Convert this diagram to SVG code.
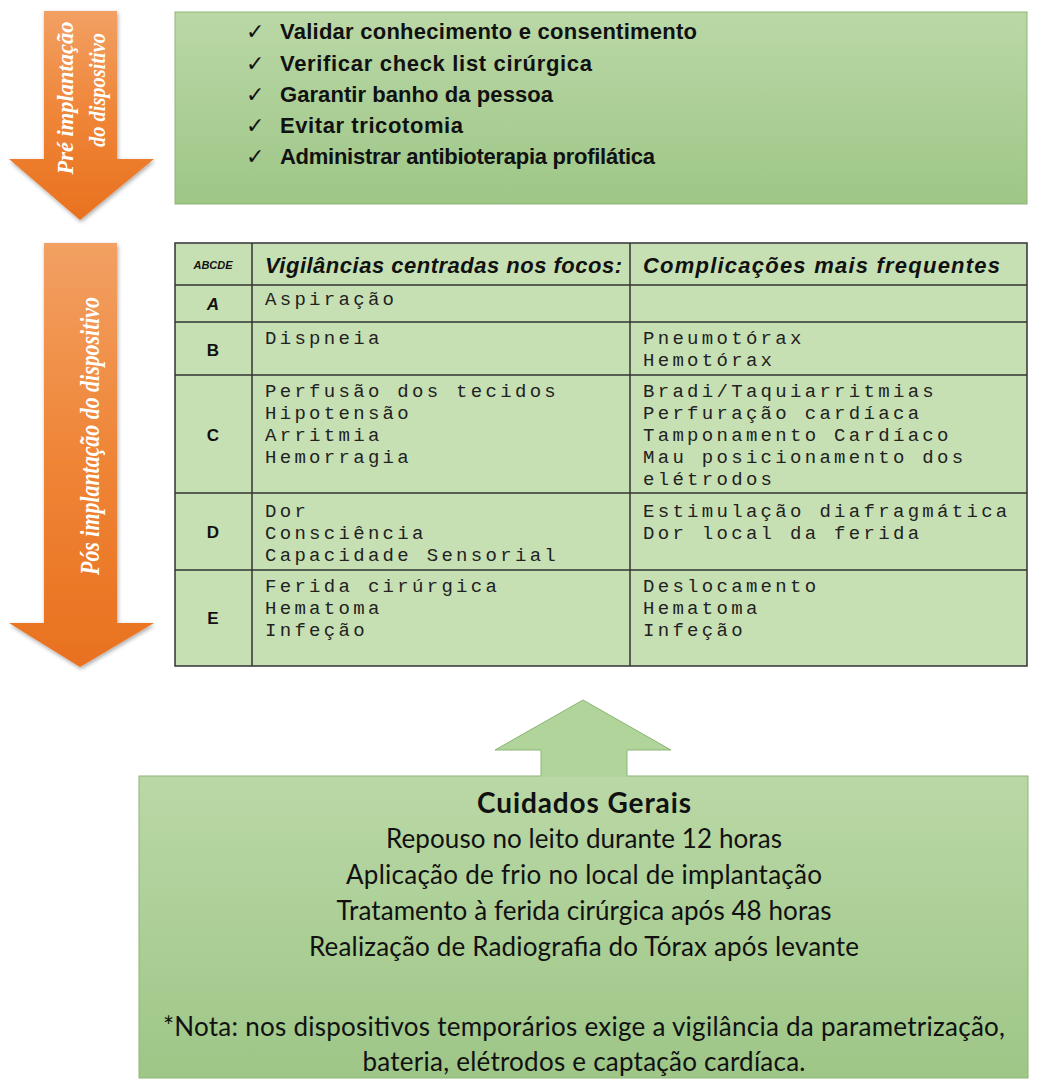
<svg xmlns="http://www.w3.org/2000/svg" width="1043" height="1081" viewBox="0 0 1043 1081">
<defs>
<linearGradient id="gGreen" x1="0" y1="0" x2="0" y2="1">
<stop offset="0" stop-color="#bad8a6"/>
<stop offset="1" stop-color="#9ec687"/>
</linearGradient>
<linearGradient id="gOrange" x1="0" y1="0" x2="0" y2="1">
<stop offset="0" stop-color="#f2a063"/>
<stop offset="0.5" stop-color="#ef8537"/>
<stop offset="1" stop-color="#e9711f"/>
</linearGradient>
<filter id="shadow" x="-20%" y="-10%" width="140%" height="130%">
<feGaussianBlur in="SourceAlpha" stdDeviation="2"/>
<feOffset dx="1" dy="2" result="b"/>
<feComponentTransfer><feFuncA type="linear" slope="0.35"/></feComponentTransfer>
<feMerge><feMergeNode/><feMergeNode in="SourceGraphic"/></feMerge>
</filter>
</defs>
<style>
.arrowTxt{font-family:"Liberation Serif","DejaVu Serif",serif;font-style:italic;font-weight:bold;fill:#ffffff;text-anchor:middle}
.chk{font-family:"Liberation Sans","DejaVu Sans",sans-serif;font-weight:bold;font-size:22px;fill:#111}
.tick{font-family:"DejaVu Sans",sans-serif;font-size:22px;fill:#111}
.hdr{font-family:"Liberation Sans","DejaVu Sans",sans-serif;font-weight:bold;font-style:italic;font-size:22px;fill:#111}
.letter{font-family:"Liberation Sans","DejaVu Sans",sans-serif;font-weight:900;fill:#111;text-anchor:middle}
.mono{font-family:"Liberation Mono","DejaVu Sans Mono",monospace;font-size:19px;letter-spacing:3.3px;fill:#222}
.grid{stroke:#333;stroke-width:1.5;fill:none}
.care{font-family:Lato,"Liberation Sans",sans-serif;font-size:26px;fill:#111;text-anchor:middle}
.careT{font-family:Lato,"Liberation Sans",sans-serif;font-size:28px;font-weight:bold;fill:#111;text-anchor:middle}
</style>

<g id="arrow-pre">
<polygon points="44,11 117,11 117,159 154,159 80,220 9,159 44,159" fill="url(#gOrange)" filter="url(#shadow)"/>
<text class="arrowTxt" font-size="24" textLength="153" lengthAdjust="spacingAndGlyphs" transform="translate(73,98) rotate(-90)">Pré implantação</text>
<text class="arrowTxt" font-size="24" textLength="114" lengthAdjust="spacingAndGlyphs" transform="translate(105,90) rotate(-90)">do dispositivo</text>
</g>

<g id="arrow-pos">
<polygon points="44,243 117,243 117,623 154,623 80,667 9,623 44,623" fill="url(#gOrange)" filter="url(#shadow)"/>
<text class="arrowTxt" font-size="27" textLength="278" lengthAdjust="spacingAndGlyphs" transform="translate(99,436) rotate(-90)">Pós implantação do dispositivo</text>
</g>

<g id="pre-box">
<rect x="175" y="12" width="852" height="192" fill="url(#gGreen)" stroke="#8db574" stroke-width="1"/>
<text class="tick" x="246" y="39">✓</text><text class="chk" x="280" y="39" textLength="417">Validar conhecimento e consentimento</text>
<text class="tick" x="246" y="71">✓</text><text class="chk" x="280" y="71" textLength="312">Verificar check list cirúrgica</text>
<text class="tick" x="246" y="102">✓</text><text class="chk" x="280" y="102" textLength="273">Garantir banho da pessoa</text>
<text class="tick" x="246" y="133">✓</text><text class="chk" x="280" y="133" textLength="183">Evitar tricotomia</text>
<text class="tick" x="246" y="164">✓</text><text class="chk" x="280" y="164" textLength="375">Administrar antibioterapia profilática</text>
</g>

<g id="table">
<rect x="175" y="243" width="852" height="423" fill="#c6e0b4"/>
<path class="grid" d="M175,243 H1027 V666 H175 Z M252,243 V666 M630,243 V666 M175,285 H1027 M175,322 H1027 M175,375 H1027 M175,493 H1027 M175,570 H1027"/>
<text class="letter" x="213" y="269" font-size="11" font-style="italic">ABCDE</text>
<text class="hdr" x="265" y="273" textLength="357">Vigilâncias centradas nos focos:</text>
<text class="hdr" x="643" y="273" textLength="357">Complicações mais frequentes</text>

<text class="letter" x="213" y="310" font-size="17" font-style="italic">A</text>
<text class="mono" x="265" y="305">Aspiração</text>

<text class="letter" x="213" y="356" font-size="17">B</text>
<text class="mono" x="265" y="344">Dispneia</text>
<text class="mono" x="643" y="344">Pneumotórax</text>
<text class="mono" x="643" y="366">Hemotórax</text>

<text class="letter" x="213" y="441" font-size="17">C</text>
<text class="mono" x="265" y="397">Perfusão dos tecidos</text>
<text class="mono" x="265" y="419">Hipotensão</text>
<text class="mono" x="265" y="441">Arritmia</text>
<text class="mono" x="265" y="463">Hemorragia</text>
<text class="mono" x="643" y="397">Bradi/Taquiarritmias</text>
<text class="mono" x="643" y="419">Perfuração cardíaca</text>
<text class="mono" x="643" y="441">Tamponamento Cardíaco</text>
<text class="mono" x="643" y="463">Mau posicionamento dos</text>
<text class="mono" x="643" y="485">elétrodos</text>

<text class="letter" x="213" y="538" font-size="17">D</text>
<text class="mono" x="265" y="517">Dor</text>
<text class="mono" x="265" y="539">Consciência</text>
<text class="mono" x="265" y="561">Capacidade Sensorial</text>
<text class="mono" x="643" y="517">Estimulação diafragmática</text>
<text class="mono" x="643" y="539">Dor local da ferida</text>

<text class="letter" x="213" y="624" font-size="17">E</text>
<text class="mono" x="265" y="592">Ferida cirúrgica</text>
<text class="mono" x="265" y="614">Hematoma</text>
<text class="mono" x="265" y="636">Infeção</text>
<text class="mono" x="643" y="592">Deslocamento</text>
<text class="mono" x="643" y="614">Hematoma</text>
<text class="mono" x="643" y="636">Infeção</text>
</g>

<g id="care-box">
<rect x="139" y="776" width="889" height="302" fill="url(#gGreen)" stroke="#8db574" stroke-width="1"/>
<text class="careT" x="584" y="813" textLength="214">Cuidados Gerais</text>
<text class="care" x="584" y="848" textLength="396">Repouso no leito durante 12 horas</text>
<text class="care" x="584" y="884" textLength="476">Aplicação de frio no local de implantação</text>
<text class="care" x="584" y="920" textLength="495">Tratamento à ferida cirúrgica após 48 horas</text>
<text class="care" x="584" y="956" textLength="550">Realização de Radiografia do Tórax após levante</text>
<text class="care" x="584" y="1036" textLength="842">*Nota: nos dispositivos temporários exige a vigilância da parametrização,</text>
<text class="care" x="584" y="1071" textLength="443">bateria, elétrodos e captação cardíaca.</text>
</g>

<g id="connectors">
<polygon points="541,777 541,750 495,750 583,700 671,750 627,750 627,777" fill="#b0d49a"/>
<polyline points="541,776 541,750 495,750 583,700 671,750 627,750 627,776" fill="none" stroke="#8db574" stroke-width="1"/>
</g>
</svg>
